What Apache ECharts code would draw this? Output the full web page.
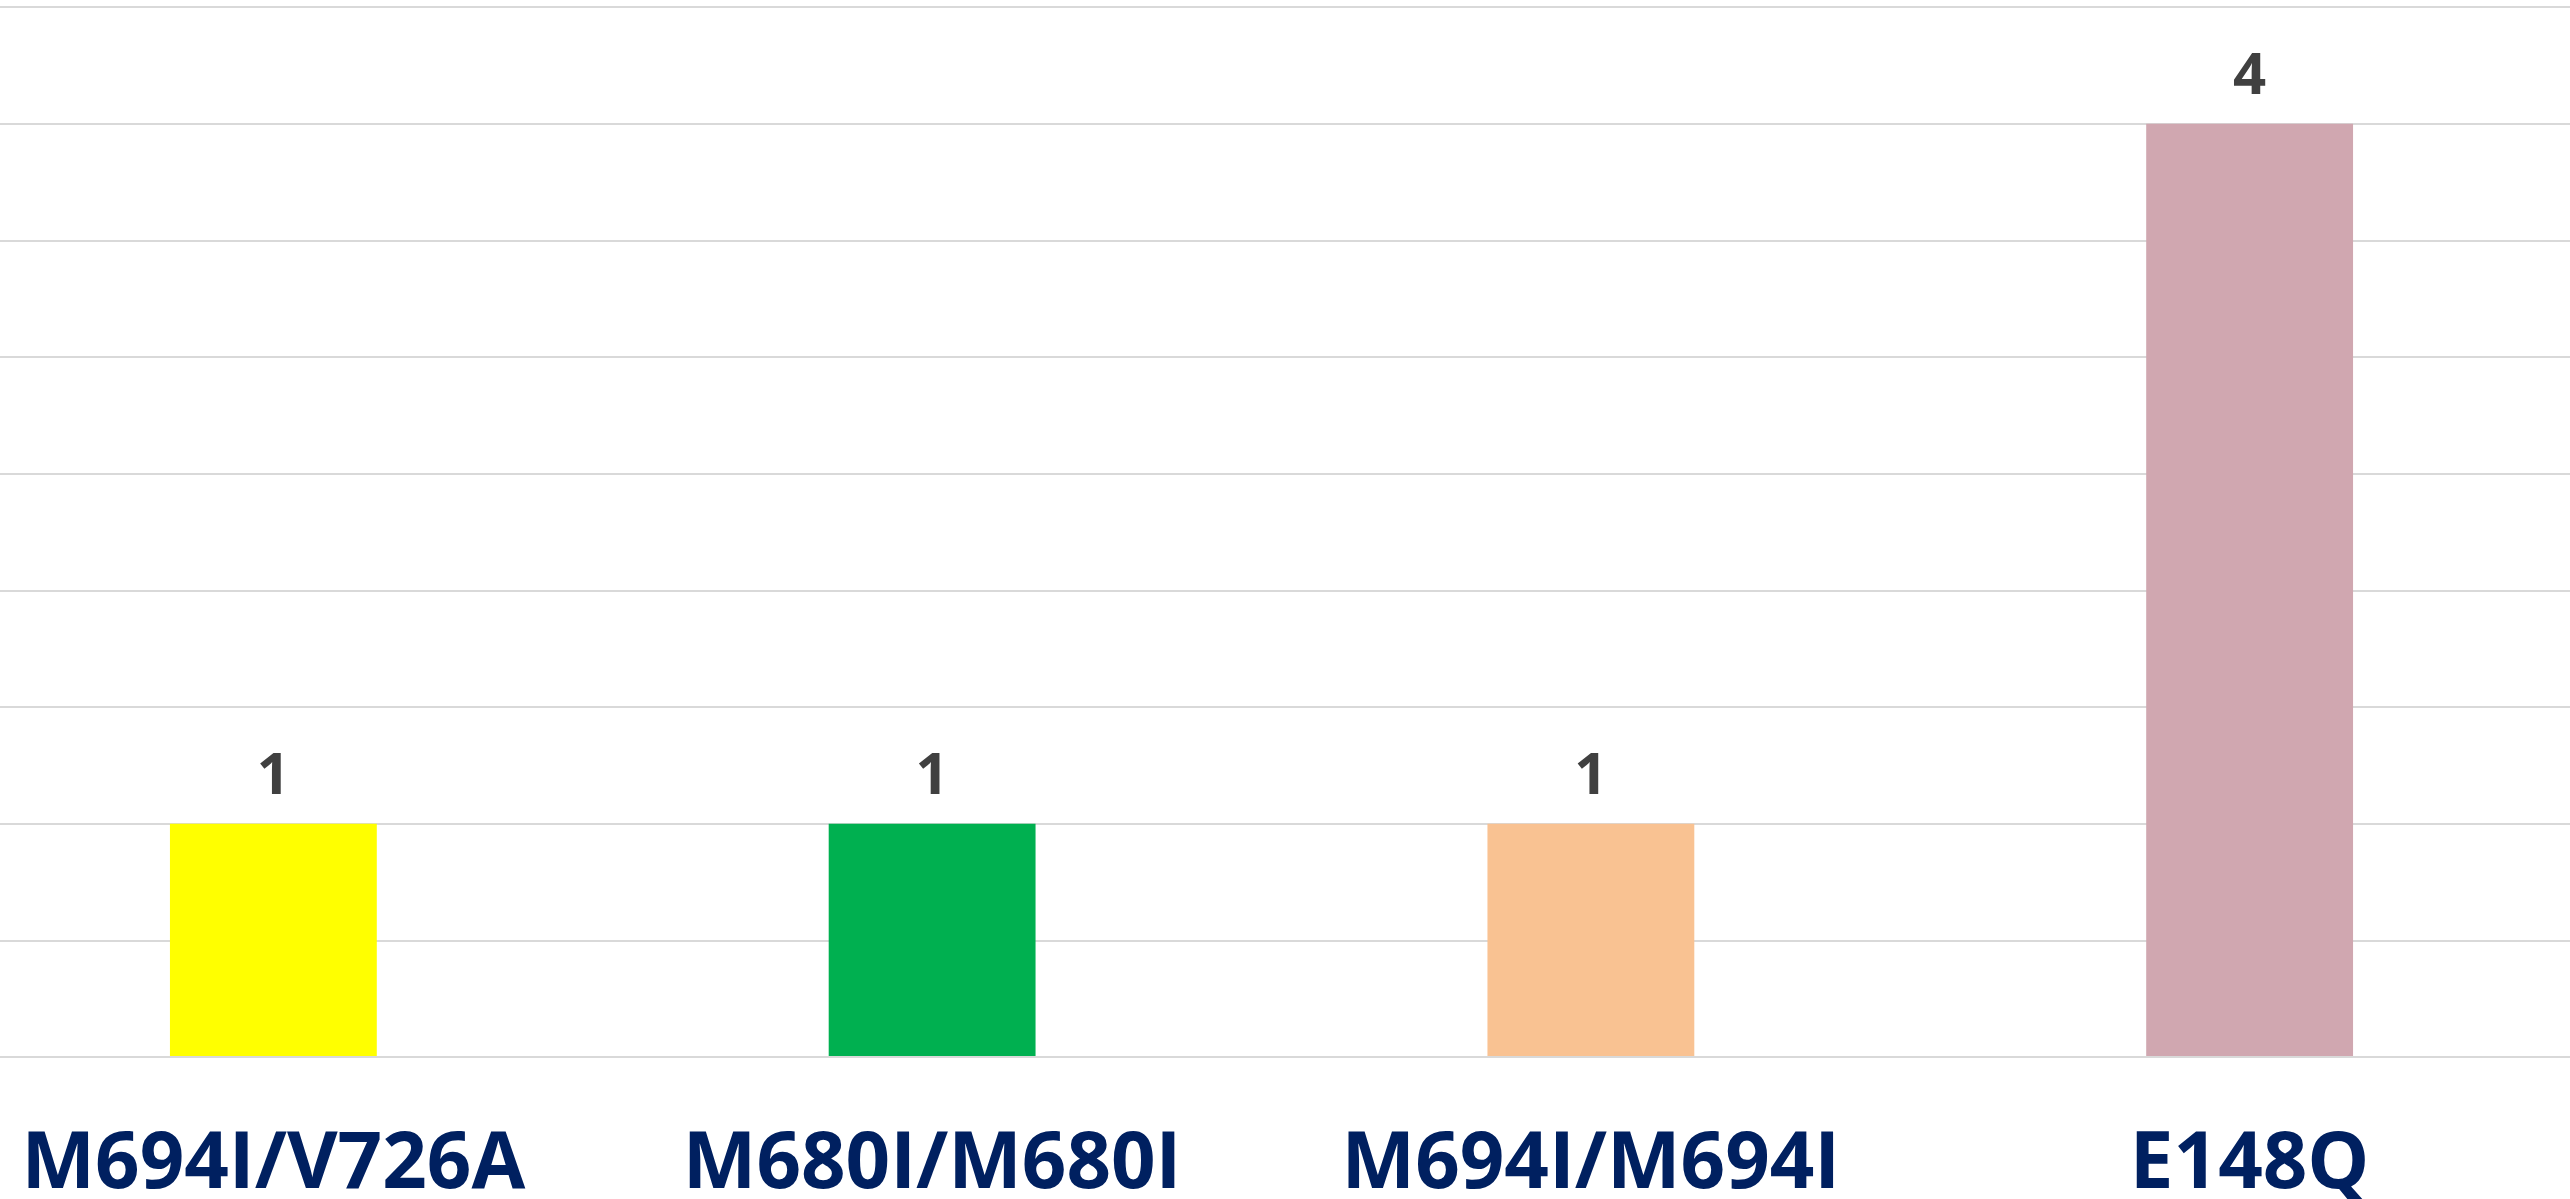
<!DOCTYPE html>
<html>
<head>
<meta charset="utf-8">
<script src="https://cdn.jsdelivr.net/npm/echarts@6/dist/echarts.min.js"></script>
<style>
html,body{margin:0;padding:0;background:#fff;}
#wrap{position:relative;width:2570px;height:1199px;overflow:hidden;}
#chart{position:absolute;left:-56px;top:0;width:2635px;height:1199px;}
</style>
</head>
<body>
<div id="wrap"><div id="chart"></div></div>
<script>
const categories = ['M694I/V726A', 'M680I/M680I', 'M694I/M694I', 'E148Q'];
const values = [1, 1, 1, 4];
const barColors = ['#FFFF00', '#00B050', '#F9C292', '#D0A7B0'];

const chart = echarts.init(document.getElementById('chart'), null, { width: 2635, height: 1199 });
chart.setOption({
  animation: false,
  backgroundColor: '#ffffff',
  grid: { left: 0, right: 0, top: 7, bottom: 142, containLabel: false, outerBoundsMode: 'none' },
  xAxis: {
    type: 'category',
    data: categories,
    axisTick: { show: false },
    axisLine: { show: true, lineStyle: { color: '#d9d9d9', width: 2 } },
    axisLabel: {
      margin: 70,
      color: '#002060',
      fontFamily: 'Open Sans',
      fontWeight: 'bold',
      fontSize: 78,
      interval: 0
    },
    z: 5
  },
  yAxis: {
    type: 'value',
    min: 0, max: 4.5, interval: 0.5,
    axisLabel: { show: false },
    axisLine: { show: false },
    axisTick: { show: false },
    splitLine: { lineStyle: { color: '#d9d9d9', width: 2 } }
  },
  series: [{
    type: 'bar',
    data: values.map((v, i) => ({ value: v, itemStyle: { color: barColors[i] } })),
    barWidth: '31.4%',
    label: {
      show: true,
      position: 'top',
      distance: 17,
      color: '#404040',
      fontFamily: 'Open Sans',
      fontWeight: 'bold',
      fontSize: 58
    }
  }]
});
</script>
</body>
</html>
